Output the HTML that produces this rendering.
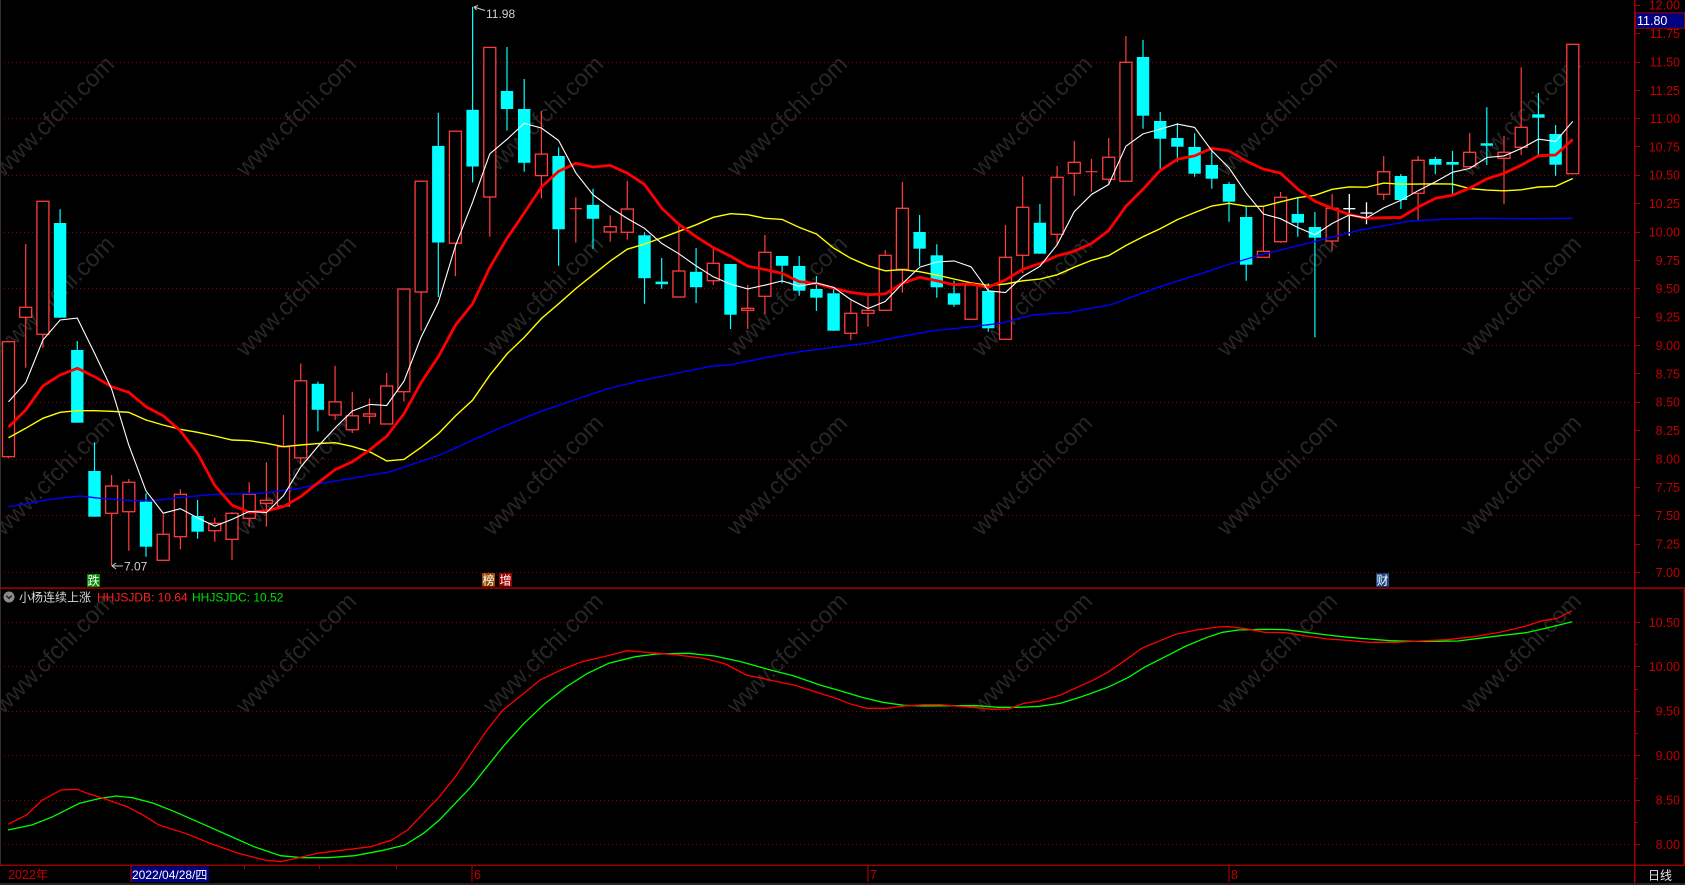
<!DOCTYPE html>
<html><head><meta charset="utf-8"><style>
html,body{margin:0;padding:0;background:#000;}
svg{display:block;}
</style></head><body>
<svg width="1685" height="885" viewBox="0 0 1685 885" xmlns="http://www.w3.org/2000/svg" font-family="'Liberation Sans','Noto Sans CJK SC',sans-serif">
<rect width="1685" height="885" fill="#000"/>
<!-- watermarks -->
<g fill="#262626" font-size="24" text-anchor="middle">
<text transform="translate(54,116) rotate(-45)" dy="8">www.cfchi.com</text>
<text transform="translate(296,116) rotate(-45)" dy="8">www.cfchi.com</text>
<text transform="translate(543,116) rotate(-45)" dy="8">www.cfchi.com</text>
<text transform="translate(787,116) rotate(-45)" dy="8">www.cfchi.com</text>
<text transform="translate(1032,116) rotate(-45)" dy="8">www.cfchi.com</text>
<text transform="translate(1277,116) rotate(-45)" dy="8">www.cfchi.com</text>
<text transform="translate(1521,116) rotate(-45)" dy="8">www.cfchi.com</text>
<text transform="translate(54,296) rotate(-45)" dy="8">www.cfchi.com</text>
<text transform="translate(296,296) rotate(-45)" dy="8">www.cfchi.com</text>
<text transform="translate(543,296) rotate(-45)" dy="8">www.cfchi.com</text>
<text transform="translate(787,296) rotate(-45)" dy="8">www.cfchi.com</text>
<text transform="translate(1032,296) rotate(-45)" dy="8">www.cfchi.com</text>
<text transform="translate(1277,296) rotate(-45)" dy="8">www.cfchi.com</text>
<text transform="translate(1521,296) rotate(-45)" dy="8">www.cfchi.com</text>
<text transform="translate(54,475) rotate(-45)" dy="8">www.cfchi.com</text>
<text transform="translate(296,475) rotate(-45)" dy="8">www.cfchi.com</text>
<text transform="translate(543,475) rotate(-45)" dy="8">www.cfchi.com</text>
<text transform="translate(787,475) rotate(-45)" dy="8">www.cfchi.com</text>
<text transform="translate(1032,475) rotate(-45)" dy="8">www.cfchi.com</text>
<text transform="translate(1277,475) rotate(-45)" dy="8">www.cfchi.com</text>
<text transform="translate(1521,475) rotate(-45)" dy="8">www.cfchi.com</text>
<text transform="translate(54,653) rotate(-45)" dy="8">www.cfchi.com</text>
<text transform="translate(296,653) rotate(-45)" dy="8">www.cfchi.com</text>
<text transform="translate(543,653) rotate(-45)" dy="8">www.cfchi.com</text>
<text transform="translate(787,653) rotate(-45)" dy="8">www.cfchi.com</text>
<text transform="translate(1032,653) rotate(-45)" dy="8">www.cfchi.com</text>
<text transform="translate(1277,653) rotate(-45)" dy="8">www.cfchi.com</text>
<text transform="translate(1521,653) rotate(-45)" dy="8">www.cfchi.com</text>
</g>
<!-- grid lines -->
<g stroke="#8c0000" stroke-width="1" stroke-dasharray="1 3">
<line x1="0" x2="1632" y1="62.5" y2="62.5"/>
<line x1="0" x2="1632" y1="118.5" y2="118.5"/>
<line x1="0" x2="1632" y1="175.5" y2="175.5"/>
<line x1="0" x2="1632" y1="232.5" y2="232.5"/>
<line x1="0" x2="1632" y1="288.5" y2="288.5"/>
<line x1="0" x2="1632" y1="345.5" y2="345.5"/>
<line x1="0" x2="1632" y1="402.5" y2="402.5"/>
<line x1="0" x2="1632" y1="459.5" y2="459.5"/>
<line x1="0" x2="1632" y1="515.5" y2="515.5"/>
<line x1="0" x2="1632" y1="572.5" y2="572.5"/>
<line x1="0" x2="1632" y1="622.5" y2="622.5"/>
<line x1="0" x2="1632" y1="666.5" y2="666.5"/>
<line x1="0" x2="1632" y1="711.5" y2="711.5"/>
<line x1="0" x2="1632" y1="755.5" y2="755.5"/>
<line x1="0" x2="1632" y1="800.5" y2="800.5"/>
<line x1="0" x2="1632" y1="844.5" y2="844.5"/>
</g>
<!-- frame -->
<rect x="0" y="0" width="1" height="865" fill="#303030"/>
<rect x="1634" y="0" width="1.5" height="885" fill="#a00000"/>
<rect x="0" y="587.3" width="1685" height="1.6" fill="#a00000"/>
<rect x="0" y="864.6" width="1685" height="1.4" fill="#a00000"/>
<rect x="1683.6" y="588" width="1.4" height="277" fill="#a00000"/>
<rect x="0" y="883" width="1685" height="2" fill="#262626"/>
<!-- axis ticks -->
<g stroke="#a00000" stroke-width="1">
<path d="M1635 5.5H1640M1635 33.5H1640M1635 62.5H1640M1635 90.5H1640M1635 118.5H1640M1635 146.5H1640M1635 175.5H1640M1635 203.5H1640M1635 232.5H1640M1635 260.5H1640M1635 288.5H1640M1635 317.5H1640M1635 345.5H1640M1635 373.5H1640M1635 402.5H1640M1635 430.5H1640M1635 459.5H1640M1635 487.5H1640M1635 515.5H1640M1635 544.5H1640M1635 572.5H1640"/>
<path d="M1635 622.5H1640M1635 644.5H1638M1635 666.5H1640M1635 689.5H1638M1635 711.5H1640M1635 733.5H1638M1635 755.5H1640M1635 778.5H1638M1635 800.5H1640M1635 822.5H1638M1635 844.5H1640"/>
</g>
<!-- axis labels -->
<g fill="#c00000" font-size="12.5" text-anchor="end">
<text x="1680" y="9.5">12.00</text>
<text x="1680" y="38">11.75</text>
<text x="1680" y="66.5">11.50</text>
<text x="1680" y="94.8">11.25</text>
<text x="1680" y="123">11.00</text>
<text x="1680" y="151.3">10.75</text>
<text x="1680" y="179.5">10.50</text>
<text x="1680" y="208">10.25</text>
<text x="1680" y="236.5">10.00</text>
<text x="1680" y="264.8">9.75</text>
<text x="1680" y="293.2">9.50</text>
<text x="1680" y="321.5">9.25</text>
<text x="1680" y="350">9.00</text>
<text x="1680" y="378.3">8.75</text>
<text x="1680" y="406.7">8.50</text>
<text x="1680" y="435">8.25</text>
<text x="1680" y="463.5">8.00</text>
<text x="1680" y="491.8">7.75</text>
<text x="1680" y="520.2">7.50</text>
<text x="1680" y="548.5">7.25</text>
<text x="1680" y="577">7.00</text>
<text x="1680" y="627">10.50</text>
<text x="1680" y="671">10.00</text>
<text x="1680" y="715.5">9.50</text>
<text x="1680" y="760">9.00</text>
<text x="1680" y="804.5">8.50</text>
<text x="1680" y="849">8.00</text>
</g>
<!-- current price box -->
<rect x="1635.5" y="12.8" width="49" height="15.5" fill="#000080" stroke="#a00000" stroke-width="1"/>
<text x="1637" y="25" fill="#ffffff" font-size="12.5">11.80</text>

<!-- cyan wicks -->
<path fill="none" stroke="#00ffff" stroke-width="1.2" d="M60.1 209.3V317.7M77.3 341V422.7M94.5 442.3V516.7M146 493.3V556.7M197.6 500V538.7M317.9 381.6V431.2M438.3 112.8V297M472.6 6.8V182.3M507 47V130.5M524.2 79V171.8M558.6 147.4V265.8M593 188.7V248.9M644.5 232.3V303.8M661.7 258V288.7M696.1 248V303M730.5 264V329M782.1 256V283.3M799.2 256V295.7M816.4 276V311M833.6 289.3V330.7M919.6 215V266M936.8 244.3V297.7M954 280.7V306.7M988.3 283.3V331.7M1039.9 204V253.7M1143 40V128.7M1160.2 112V168.7M1177.4 123.3V161.7M1194.6 133.3V176.7M1211.8 150V188.7M1229 182V221.7M1246.2 206.7V280.7M1297.8 197.3V236.7M1314.9 212V337.3M1400.9 174V209M1435.3 156.7V174.3M1452.5 151V194M1486.8 107.3V165M1538.4 93V155M1555.6 125V175.7"/>
<!-- cyan bodies -->
<g fill="#00ffff">
<rect x="53.9" y="223" width="12.4" height="94.7"/>
<rect x="71.1" y="350" width="12.4" height="72.7"/>
<rect x="88.3" y="471" width="12.4" height="45.7"/>
<rect x="139.8" y="501.7" width="12.4" height="45"/>
<rect x="191.4" y="516" width="12.4" height="15.7"/>
<rect x="311.7" y="383.8" width="12.4" height="26"/>
<rect x="432.1" y="145.9" width="12.4" height="96.6"/>
<rect x="466.4" y="109.8" width="12.4" height="56.7"/>
<rect x="500.8" y="91" width="12.4" height="18"/>
<rect x="518" y="109" width="12.4" height="53.8"/>
<rect x="552.4" y="156" width="12.4" height="73.3"/>
<rect x="586.8" y="204.9" width="12.4" height="13.9"/>
<rect x="638.3" y="235.3" width="12.4" height="42.9"/>
<rect x="655.5" y="281.6" width="12.4" height="2.6"/>
<rect x="689.9" y="271.8" width="12.4" height="15.4"/>
<rect x="724.3" y="264" width="12.4" height="50.7"/>
<rect x="775.9" y="256" width="12.4" height="9.7"/>
<rect x="793" y="266" width="12.4" height="24.7"/>
<rect x="810.2" y="289" width="12.4" height="8.7"/>
<rect x="827.4" y="293.3" width="12.4" height="37.4"/>
<rect x="913.4" y="232" width="12.4" height="16.7"/>
<rect x="930.6" y="255.3" width="12.4" height="32"/>
<rect x="947.8" y="293.3" width="12.4" height="11.4"/>
<rect x="982.1" y="291" width="12.4" height="37.3"/>
<rect x="1033.7" y="222.7" width="12.4" height="31"/>
<rect x="1136.8" y="57" width="12.4" height="58.7"/>
<rect x="1154" y="121" width="12.4" height="17.7"/>
<rect x="1171.2" y="138" width="12.4" height="8.7"/>
<rect x="1188.4" y="147" width="12.4" height="26.7"/>
<rect x="1205.6" y="165" width="12.4" height="13.7"/>
<rect x="1222.8" y="184" width="12.4" height="17.7"/>
<rect x="1240" y="217" width="12.4" height="47.7"/>
<rect x="1291.6" y="214" width="12.4" height="8.7"/>
<rect x="1308.7" y="227" width="12.4" height="10.7"/>
<rect x="1394.7" y="176" width="12.4" height="24"/>
<rect x="1429.1" y="159" width="12.4" height="5.7"/>
<rect x="1446.3" y="162" width="12.4" height="2.7"/>
<rect x="1480.6" y="143.3" width="12.4" height="2.4"/>
<rect x="1532.2" y="114.3" width="12.4" height="3.4"/>
<rect x="1549.4" y="134" width="12.4" height="30.7"/>
</g>
<!-- red wicks -->
<path fill="none" stroke="#ff3c3c" stroke-width="1.2" d="M8.5 456.7V458M25.7 244V307.3M25.7 317.3V367.7M42.9 334.3V347.7M111.6 475V486M111.6 513.3V566M128.8 479V482.3M128.8 511.7V550.7M163.2 514.3V534.3M180.4 489.3V494.3M180.4 536.7V549.3M214.8 517.7V523.3M214.8 530.7V541.7M232 512V513.3M232 539.3V560M249.2 482.3V494.3M249.2 518.3V526.7M266.4 462.3V500.3M266.4 503.3V526.7M283.5 415V446.7M300.7 363.5V380.8M300.7 457.9V464.3M335.1 365.8V401.9M335.1 415V420M352.3 391.7V415.8M352.3 429.7V433M369.5 398.5V413.9M369.5 416.2V423.7M386.7 373V386M403.9 391.7V401.5M421.1 292V330.8M455.4 243.2V276.3M489.8 197V236.8M541.4 111V154.1M541.4 175.6V198.5M569.8 208.6H581.8M575.8 197.4V242.5M610.2 215.4V226.7M610.2 232V241.7M627.3 180.8V209M627.3 232.3V239.8M678.9 225.6V271M713.3 246.7V263.3M713.3 280.7V285M747.7 285V308.3M747.7 310.3V329M764.9 235V252.3M764.9 296.3V314M850.8 300.7V313.3M850.8 333.3V340M868 295.7V310.3M868 313.3V326.7M885.2 250V255.3M902.4 182V208.3M902.4 269.3V292.7M1005.5 225V257.3M1022.7 176.7V207.3M1022.7 255.3V273.3M1057.1 166V177.3M1057.1 234.3V245M1074.3 141V162.3M1074.3 173.3V195.7M1085.5 171.7H1097.5M1091.5 159V191.7M1108.7 138V157.3M1108.7 179.3V184M1125.9 36V62.3M1263.4 206V251.3M1280.6 192V197.3M1280.6 241.7V242.7M1332.1 194V208.3M1332.1 241V250.7M1383.7 156V171.7M1383.7 194.3V200M1418.1 156V160.3M1418.1 193.3V221M1469.7 133V152.3M1504 136V152.3M1504 158.3V204.3M1521.2 67.3V127.3M1521.2 147.3V155"/>
<!-- red bodies -->
<g fill="#000" stroke="#ff3c3c" stroke-width="1.3">
<rect x="2.5" y="341.7" width="12" height="115"/>
<rect x="19.7" y="307.3" width="12" height="10"/>
<rect x="36.9" y="201.3" width="12" height="133"/>
<rect x="105.6" y="486" width="12" height="27.3"/>
<rect x="122.8" y="482.3" width="12" height="29.4"/>
<rect x="157.2" y="534.3" width="12" height="26"/>
<rect x="174.4" y="494.3" width="12" height="42.4"/>
<rect x="208.8" y="523.3" width="12" height="7.4"/>
<rect x="226" y="513.3" width="12" height="26"/>
<rect x="243.2" y="494.3" width="12" height="24"/>
<rect x="260.4" y="500.3" width="12" height="3"/>
<rect x="277.5" y="446.7" width="12" height="59.3"/>
<rect x="294.7" y="380.8" width="12" height="77.1"/>
<rect x="329.1" y="401.9" width="12" height="13.1"/>
<rect x="346.3" y="415.8" width="12" height="13.9"/>
<rect x="363.5" y="413.9" width="12" height="2.3"/>
<rect x="380.7" y="386" width="12" height="38"/>
<rect x="397.9" y="289" width="12" height="102.7"/>
<rect x="415.1" y="181.2" width="12" height="110.8"/>
<rect x="449.4" y="131.2" width="12" height="112"/>
<rect x="483.8" y="47.4" width="12" height="149.6"/>
<rect x="535.4" y="154.1" width="12" height="21.5"/>
<rect x="604.2" y="226.7" width="12" height="5.3"/>
<rect x="621.3" y="209" width="12" height="23.3"/>
<rect x="672.9" y="271" width="12" height="26"/>
<rect x="707.3" y="263.3" width="12" height="17.4"/>
<rect x="741.7" y="308.3" width="12" height="2"/>
<rect x="758.9" y="252.3" width="12" height="44"/>
<rect x="844.8" y="313.3" width="12" height="20"/>
<rect x="862" y="310.3" width="12" height="3"/>
<rect x="879.2" y="255.3" width="12" height="55"/>
<rect x="896.4" y="208.3" width="12" height="61"/>
<rect x="965.1" y="285" width="12" height="34.3"/>
<rect x="999.5" y="257.3" width="12" height="82"/>
<rect x="1016.7" y="207.3" width="12" height="48"/>
<rect x="1051.1" y="177.3" width="12" height="57"/>
<rect x="1068.3" y="162.3" width="12" height="11"/>
<rect x="1102.7" y="157.3" width="12" height="22"/>
<rect x="1119.9" y="62.3" width="12" height="119"/>
<rect x="1257.4" y="251.3" width="12" height="6"/>
<rect x="1274.6" y="197.3" width="12" height="44.4"/>
<rect x="1326.1" y="208.3" width="12" height="32.7"/>
<rect x="1377.7" y="171.7" width="12" height="22.6"/>
<rect x="1412.1" y="160.3" width="12" height="33"/>
<rect x="1463.7" y="152.3" width="12" height="14.4"/>
<rect x="1498" y="152.3" width="12" height="6"/>
<rect x="1515.2" y="127.3" width="12" height="20"/>
<rect x="1566.8" y="44.3" width="12" height="129.4"/>
</g>
<!-- white doji crosses -->
<path fill="none" stroke="#ffffff" stroke-width="1.3" d="M1343.3 208.7H1355.3M1349.3 194V235.7M1360.5 213H1372.5M1366.5 202.3V224.3"/>

<!-- MA60 blue -->
<polyline fill="none" stroke="#0000ff" stroke-width="1.4" points="8.5,506.7 33,502.7 50,499.3 80,496 100,498.3 133,500.7 160,500 187,496.7 217,494.3 260,493.3 300,488.3 323,483 357,477.4 390,471.8 407,466 440,455 473,440 507,425 540,411.7 573,400.4 607,389 640,380.8 673,374 710,366.5 733,364.3 767,357.3 800,351.7 833,347.3 867,343.3 900,336.7 933,330.7 967,327.3 1000,323.3 1033,315 1067,312.7 1100,306.7 1110,305 1160,286.7 1210,270.7 1227,265 1260,255 1310,242.7 1360,230 1410,221 1443,219.3 1477,218.3 1527,218.7 1572.8,218.3"/>
<!-- MA20 yellow -->
<polyline fill="none" stroke="#ffff00" stroke-width="1.4" points="8.5,437.7 25.7,428.3 42.9,418.3 60.1,412.3 77.3,410.7 94.5,410.7 111.6,411.3 128.8,412.3 146,420 163.2,425 180.4,429.3 197.6,432.3 214.8,436 232,440 249.2,440.7 266.4,443.3 283.5,446.7 300.7,445 317.9,443.6 335.1,442.7 352.3,446.4 369.5,451.7 386.7,460.9 403.9,459.5 421.1,447.4 438.3,433.7 455.4,416 472.6,400.2 489.8,375.2 507,353.9 524.2,337.4 541.4,318.5 558.6,303.8 575.8,288.6 593,274.8 610.2,261.1 627.3,249.2 644.5,244.1 661.7,237.8 678.9,231.3 696.1,224.8 713.3,217.3 730.5,213.7 747.7,214.7 764.9,218.3 782.1,219.4 799.2,227.4 816.4,234 833.6,248.1 850.8,258.3 868,265.7 885.2,270.8 902.4,269.7 919.6,271.7 936.8,275.1 954,279 971.1,282.8 988.3,285.4 1005.5,284 1022.7,280.8 1039.9,279.1 1057.1,274.8 1074.3,267.2 1091.5,260.4 1108.7,255.6 1125.9,245.5 1143,236.7 1160.2,228.8 1177.4,219.6 1194.6,212.6 1211.8,206 1229,203.3 1246.2,206.2 1263.4,206.3 1280.6,201.8 1297.8,197.7 1314.9,195.3 1332.1,189.3 1349.3,186.9 1366.5,187.2 1383.7,183.1 1400.9,184.2 1418.1,184.1 1435.3,183.8 1452.5,184.1 1469.7,188.6 1486.8,190.1 1504,190.8 1521.2,189.8 1538.4,187 1555.6,186.3 1572.8,178.5"/>
<!-- MA10 red thick -->
<polyline fill="none" stroke="#ff0000" stroke-width="2.8" stroke-linejoin="round" points="8.5,427 25.7,410 42.9,386 60.1,375 77.3,368.3 94.5,376.7 111.6,386.7 128.8,392.3 146,406.7 163.2,415.7 180.4,430.9 197.6,453.4 214.8,485.6 232,505.1 249.2,512.3 266.4,510.7 283.5,506.7 300.7,496.6 317.9,482.9 335.1,469.6 352.3,461.8 369.5,450 386.7,436.3 403.9,413.9 421.1,382.5 438.3,356.8 455.4,325.2 472.6,303.8 489.8,267.5 507,238.3 524.2,213 541.4,187 558.6,171.3 575.8,163.3 593,167 610.2,165.4 627.3,173.2 644.5,184.4 661.7,208.1 678.9,224.3 696.1,236.7 713.3,247.6 730.5,256.2 747.7,266.1 764.9,269.5 782.1,273.4 799.2,281.6 816.4,283.5 833.6,288.2 850.8,292.4 868,294.7 885.2,293.9 902.4,283.3 919.6,277.3 936.8,280.8 954,284.7 971.1,284.1 988.3,287.2 1005.5,279.9 1022.7,269.3 1039.9,263.6 1057.1,255.8 1074.3,251.2 1091.5,243.5 1108.7,230.5 1125.9,206.3 1143,189.3 1160.2,170.4 1177.4,159.3 1194.6,155.9 1211.8,148.4 1229,150.9 1246.2,161.1 1263.4,169.1 1280.6,173.1 1297.8,189.1 1314.9,201.3 1332.1,208.3 1349.3,214.5 1366.5,218.4 1383.7,217.7 1400.9,217.5 1418.1,207.1 1435.3,198.4 1452.5,195.2 1469.7,188.1 1486.8,178.9 1504,173.3 1521.2,165.2 1538.4,155.7 1555.6,155 1572.8,139.4"/>
<!-- MA5 white -->
<polyline fill="none" stroke="#ffffff" stroke-width="1.1" points="8.5,401.7 25.7,382.7 42.9,340 60.1,320 77.3,318.1 94.5,353.1 111.6,388.9 128.8,445.1 146,490.9 163.2,513.2 180.4,508.7 197.6,517.9 214.8,526.1 232,519.4 249.2,511.4 266.4,512.6 283.5,495.6 300.7,467.1 317.9,446.4 335.1,427.9 352.3,411 369.5,404.4 386.7,405.5 403.9,381.3 421.1,337.2 438.3,302.5 455.4,246 472.6,202.1 489.8,153.8 507,139.3 524.2,123.4 541.4,128 558.6,140.5 575.8,172.8 593,194.7 610.2,207.5 627.3,218.5 644.5,228.3 661.7,243.4 678.9,253.8 696.1,265.9 713.3,276.8 730.5,284.1 747.7,288.9 764.9,285.2 782.1,280.9 799.2,286.3 816.4,282.9 833.6,287.4 850.8,299.6 868,308.5 885.2,301.5 902.4,283.6 919.6,267.2 936.8,262 954,260.9 971.1,266.8 988.3,290.8 1005.5,292.5 1022.7,276.5 1039.9,266.3 1057.1,244.8 1074.3,211.6 1091.5,194.5 1108.7,184.5 1125.9,146.2 1143,133.9 1160.2,129.1 1177.4,124.1 1194.6,127.4 1211.8,150.7 1229,167.9 1246.2,193.1 1263.4,214 1280.6,218.7 1297.8,227.5 1314.9,234.7 1332.1,223.5 1349.3,214.9 1366.5,218.1 1383.7,207.9 1400.9,200.3 1418.1,190.7 1435.3,181.9 1452.5,172.3 1469.7,168.4 1486.8,157.5 1504,155.9 1521.2,148.5 1538.4,139.1 1555.6,141.5 1572.8,121.3"/>

<!-- annotations -->
<path d="M474 7L485 10.5M474 7l4 -1.5M474 7l2.5 3" stroke="#c8c8c8" stroke-width="1" fill="none"/>
<text x="486" y="18" fill="#d0d0d8" font-size="12">11.98</text>
<path d="M112 566H123M112 566l4 -3M112 566l4 3" stroke="#c8c8c8" stroke-width="1" fill="none"/>
<text x="124" y="570.5" fill="#d0d0d8" font-size="12">7.07</text>

<!-- markers -->
<rect x="87" y="574" width="13" height="13" fill="#008a00"/>
<text x="93.5" y="585" fill="#ffffff" font-size="12" text-anchor="middle">跌</text>
<rect x="482" y="573" width="13" height="13.5" fill="#9a4a00"/>
<text x="488.5" y="584.5" fill="#ffffff" font-size="12" text-anchor="middle">榜</text>
<rect x="499" y="573" width="13" height="13.5" fill="#a00000"/>
<text x="505.5" y="584.5" fill="#ffffff" font-size="12" text-anchor="middle">增</text>
<rect x="1376" y="573.3" width="13" height="13.4" fill="#1a4a8a"/>
<text x="1382.5" y="584.5" fill="#ffffff" font-size="12" text-anchor="middle">财</text>

<!-- indicator header -->
<circle cx="9" cy="597" r="5.5" fill="#8c8c8c"/>
<path d="M6.3 595.6L9 598.4L11.7 595.6" stroke="#202020" stroke-width="1.4" fill="none"/>
<text x="19" y="601.5" fill="#d8d8d8" font-size="12">小杨连续上涨</text>
<text x="97" y="601.5" fill="#ff2020" font-size="12">HHJSJDB: 10.64</text>
<text x="192" y="601.5" fill="#00e000" font-size="12">HHJSJDC: 10.52</text>

<!-- indicator lines -->
<polyline fill="none" stroke="#00ff00" stroke-width="1.3" points="7.9,830 31.8,825 52.9,816.7 79.4,803.3 100.6,798.3 116.5,796 132.3,797.7 153.5,803.3 174.7,811.7 201.2,823.3 227.6,835 254.1,846.7 280.6,855.7 301.7,857.7 328.2,857.7 354.7,855.7 381.2,850.7 405,845 423.5,833.3 439.4,820 455.3,803.3 471.2,786.7 487,766.7 503,746.7 524,723.3 545.3,703.3 566.4,686.7 587.6,673.3 608.8,663.3 635.3,656.7 656.5,654 688.2,653.3 714.7,656 741.2,661.7 767.6,669.3 794.1,676 820,685 840.9,691 861.8,697.3 882.8,702.3 903.7,705.3 924.6,706 950.8,705.7 976.9,705.7 997.8,707.3 1018.7,707.3 1039.7,706.3 1060.6,703.3 1081.5,696.7 1107.7,687.3 1128.6,677.3 1144.3,667.3 1165.2,656.7 1186.1,646 1207,637.3 1222.7,632.3 1238.4,630 1264.6,629.3 1285.5,629.7 1306.4,632.3 1327.3,635 1348.2,637.3 1369.2,639 1390.1,640.7 1411,641.3 1437.2,641.3 1458.1,641 1479,638.3 1500,635.7 1526,632.7 1552.2,626.7 1572.1,621.7"/>
<polyline fill="none" stroke="#ff0000" stroke-width="1.3" points="8,824.3 26.5,815 42.4,800 60.9,790 76.8,789.3 87.3,793.3 105.9,799.3 127,806.7 143,815 158.8,825 185.3,833.3 211.8,844 238.2,853.3 264.7,860 280.6,861.7 296.5,858.3 317.6,853.3 344,850 370.6,846.7 391.7,840 407.6,830 423.5,813.3 439.4,796.7 455.3,776.7 471.2,753.3 487,730 503,710 524,693.3 540,680 561,670 582,661.7 603.5,656.7 627.3,650.7 651,652.7 677.6,655 704,658.3 725.3,664 746.4,675 773,680.7 794,685 815,691.7 835.7,698.3 851.4,704.3 867,708.3 888,708.3 903.7,706 924.6,704.7 940.3,704.7 956,706 976.9,707.7 992.6,709.3 1008.3,709 1024,703.3 1039.7,701 1060.6,695 1076.3,687.7 1092,680.7 1107.7,672.3 1123.3,661.7 1141.7,648.3 1160,640.7 1175.6,634.3 1196.6,630 1217.5,627 1228,626.7 1243.6,628.3 1264.6,632.3 1285.5,632.7 1306.4,636 1327.3,639 1343,640 1369.2,642.3 1395.3,642.3 1426.7,640.7 1447.6,639.7 1473.7,636.7 1500,632.3 1526,626 1541.8,620.7 1557.5,618.3 1572.1,610.7"/>

<!-- date bar -->
<text x="8" y="879" fill="#c00000" font-size="12.5">2022年</text>
<rect x="131" y="866.5" width="78" height="15.5" fill="#000080"/>
<rect x="130.5" y="866" width="1" height="16" fill="#c00000"/>
<text x="132" y="879" fill="#ffffff" font-size="12">2022/04/28/四</text>
<g fill="#a00000">
<rect x="244" y="866" width="1" height="3"/>
<rect x="319" y="866" width="1" height="3"/>
<rect x="396" y="866" width="1" height="3"/>
</g>
<rect x="471.5" y="866" width="1" height="16" fill="#c00000"/>
<text x="474" y="879" fill="#c00000" font-size="12.5">6</text>
<rect x="867.5" y="866" width="1" height="16" fill="#c00000"/>
<text x="870" y="879" fill="#c00000" font-size="12.5">7</text>
<rect x="1228.5" y="866" width="1" height="16" fill="#c00000"/>
<text x="1231" y="879" fill="#c00000" font-size="12.5">8</text>
<text x="1648" y="879.5" fill="#e6e6f0" font-size="12">日线</text>
</svg>
</body></html>
